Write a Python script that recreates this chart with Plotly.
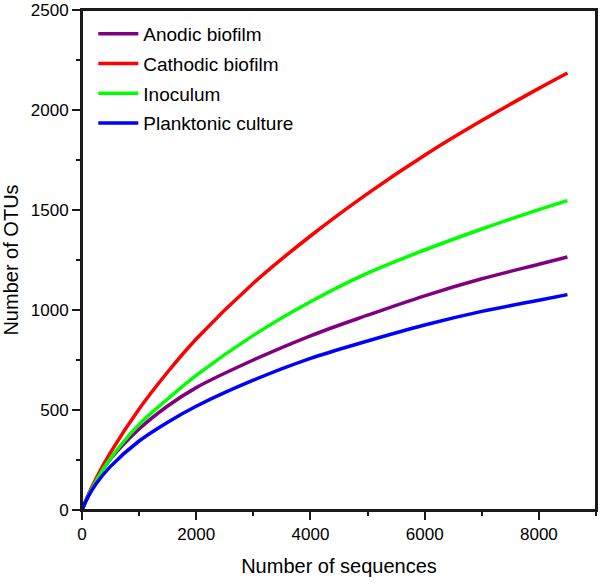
import plotly.graph_objects as go

# Data
sequences = [0, 100, 250, 500, 1000, 1500, 2000, 3000, 4000, 5000, 6000, 7000, 8000, 8500]
anodic_biofilm = [0, 68, 152, 255, 405, 520, 612, 750, 871, 974, 1071, 1156, 1229, 1265]
cathodic_biofilm = [0, 70, 160, 288, 505, 690, 855, 1134, 1370, 1582, 1774, 1947, 2108, 2185]
inoculum = [0, 66, 147, 258, 428, 555, 673, 873, 1041, 1184, 1300, 1405, 1502, 1547]
planktonic_culture = [0, 62, 132, 218, 345, 439, 519, 649, 758, 845, 925, 993, 1049, 1077]

series_names = ["Anodic biofilm", "Cathodic biofilm", "Inoculum", "Planktonic culture"]
series_values = [anodic_biofilm, cathodic_biofilm, inoculum, planktonic_culture]
series_colors = ["#800080", "#FF0000", "#00FF00", "#0000FF"]

x_ticks = [0, 2000, 4000, 6000, 8000]
y_ticks = [0, 500, 1000, 1500, 2000, 2500]

FONT = "Liberation Sans Narrow, Arial Narrow, Liberation Sans, Arial, sans-serif"

fig = go.Figure()
for name, vals, col in zip(series_names, series_values, series_colors):
    fig.add_trace(go.Scatter(
        x=sequences, y=vals, name=name, mode="lines",
        line=dict(color=col, width=3.5, shape="spline", smoothing=1.0),
        legendgroup=name,
    ))

axis_common = dict(
    showline=True, linecolor="#1a1a1a", linewidth=2, mirror=True,
    ticks="outside", ticklen=8, tickwidth=1.5, tickcolor="#1a1a1a",
    showgrid=False, zeroline=False, automargin=False,
    tickfont=dict(family=FONT, size=17, color="black"),
)

fig.update_xaxes(
    range=[0, 9000], tickvals=x_ticks,
    minor=dict(dtick=1000, tick0=0, ticks="outside", ticklen=4, tickwidth=1.5, tickcolor="#1a1a1a"),
    title=dict(text="Number of sequences", font=dict(family=FONT, size=20, color="black"), standoff=16),
    **axis_common,
)
fig.update_yaxes(
    range=[0, 2500], tickvals=y_ticks,
    minor=dict(dtick=250, tick0=0, ticks="outside", ticklen=4, tickwidth=1.5, tickcolor="#1a1a1a"),
    title=dict(text="Number of OTUs", font=dict(family=FONT, size=20, color="black"), standoff=13),
    **axis_common,
)

# plot-area frame (top and right borders), in paper coordinates
fig.add_shape(type="rect", xref="paper", yref="paper", x0=0, x1=1, y0=0, y1=1,
              line=dict(color="#1a1a1a", width=2), fillcolor="rgba(0,0,0,0)", layer="above")

fig.update_layout(
    width=600, height=584,
    margin=dict(l=82, r=4, t=10, b=74),
    plot_bgcolor="white", paper_bgcolor="white",
    legend=dict(
        x=0.022, y=0.99, xanchor="left", yanchor="top",
        font=dict(family=FONT, size=19, color="black"),
        bgcolor="rgba(0,0,0,0)", tracegroupgap=2, itemwidth=40,
    ),
    showlegend=True,
)

fig.write_html(
    "out.html",
    config={"displayModeBar": False},
    post_script="document.body.style.margin='0';document.body.style.overflow='hidden';",
)
